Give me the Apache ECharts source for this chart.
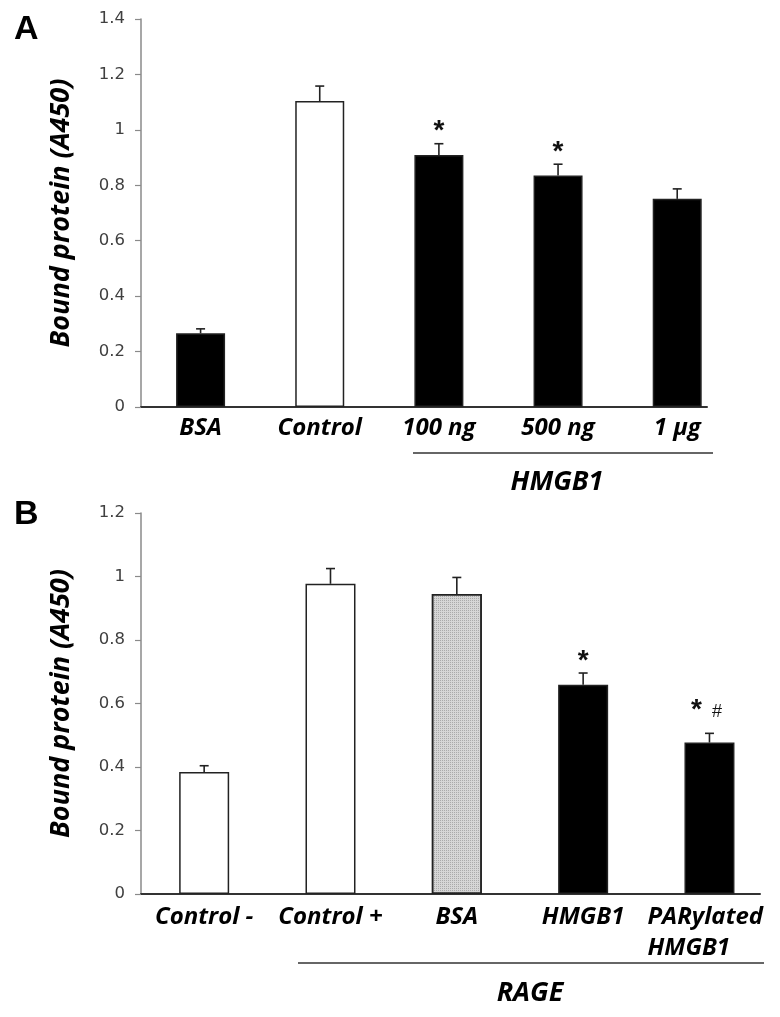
<!DOCTYPE html>
<html><head><meta charset="utf-8">
<script src="https://cdn.jsdelivr.net/npm/echarts@6/dist/echarts.min.js"></script>
<style>html,body{margin:0;padding:0;background:#fff}#c{width:780px;height:1017px}</style>
</head><body><div id="c"></div>
<script>
// ---- Data ----
const categoriesA = ['BSA', 'Control', '100 ng', '500 ng', '1 µg'];
const valuesA = [0.266, 1.104, 0.909, 0.835, 0.751];
const errorsA = [0.016, 0.054, 0.041, 0.041, 0.036];
const signifA = ['', '', '*', '*', ''];
const groupLabelA = 'HMGB1';

const categoriesB = ['Control -', 'Control +', 'BSA', 'HMGB1', 'PARylated\nHMGB1'];
const valuesB = [0.384, 0.977, 0.945, 0.659, 0.477];
const errorsB = [0.020, 0.048, 0.052, 0.037, 0.029];
const signifB = ['', '', '', '*', '* #'];
const groupLabelB = 'RAGE';

const yMaxA = 1.4, yMaxB = 1.2, yStep = 0.2;

// ---- Styles ----
const fillsA = ['#000', '#fff', '#000', '#000', '#000'];
const fillsB = ['#fff', '#fff', '#d6d6d6', '#000', '#000'];
const dottedB = [false, false, true, false, false];
const labelFont = { fontFamily: 'Open Sans', fontStyle: 'italic', fontWeight: 'bold', fontSize: 24, color: '#000' };

const chart = echarts.init(document.getElementById('c'), null, { renderer: 'canvas' });

function errRender(sig) {
  return function (params, api) {
    const x = api.value(0), y = api.value(1), e = api.value(2);
    const p0 = api.coord([x, y]), p1 = api.coord([x, y + e]);
    const children = [
      { type: 'line', shape: { x1: p0[0], y1: p0[1], x2: p1[0], y2: p1[1] }, style: { stroke: '#222', lineWidth: 1.6 } },
      { type: 'line', shape: { x1: p1[0] - 4.5, y1: p1[1], x2: p1[0] + 4.5, y2: p1[1] }, style: { stroke: '#222', lineWidth: 1.6 } }
    ];
    const s = sig[params.dataIndex];
    if (s) {
      const hasHash = s.indexOf('#') >= 0;
      const txt = s.split(' ').map(t => t === '#' ? '{h|#}' : '{s|*}').join('{g| }');
      children.push({
        type: 'text', x: p1[0] - (hasHash ? 3 : 0), y: p1[1] - (hasHash ? 23 : 12),
        style: {
          text: txt, align: 'center', verticalAlign: 'middle', fill: '#111',
          rich: {
            s: { fontFamily: 'Liberation Sans', fontWeight: 'bold', fontSize: 28, fill: '#111' },
            h: { fontFamily: 'Liberation Sans', fontSize: 18, fill: '#111', padding: [3, 0, 0, 0] },
            g: { fontSize: 16, width: 10 }
          }
        }
      });
    }
    return { type: 'group', children };
  };
}

function yAxisCfg(gi, max) {
  return {
    gridIndex: gi, type: 'value', min: 0, max: max, interval: yStep,
    axisLine: { show: true, onZero: false, lineStyle: { color: '#8a8a8a', width: 1.5 } },
    axisTick: { show: true, length: 6, lineStyle: { color: '#8a8a8a', width: 1.2 } },
    splitLine: { show: false },
    axisLabel: { color: '#404040', fontSize: 16.5, fontFamily: 'DejaVu Sans', margin: 16,
      formatter: v => String(+v.toFixed(1)) },
    name: 'Bound protein (A450)', nameLocation: 'middle', nameGap: 66,
    nameTextStyle: { fontFamily: 'Open Sans', fontStyle: 'italic', fontWeight: 'bold', fontSize: 27, color: '#000' }
  };
}

function barItem(fill, dotted) {
  const st = { color: fill, borderColor: '#222', borderWidth: 1.5 };
  if (dotted) st.decal = { symbol: 'rect', symbolSize: 1, dashArrayX: [1, 1], dashArrayY: [1, 1], color: 'rgba(90,90,90,0.35)' };
  return st;
}

const option = {
  animation: false,
  backgroundColor: '#fff',
  title: [
    { text: 'A', left: 9, top: 8, textStyle: { fontFamily: 'Liberation Sans', fontWeight: 'bold', fontSize: 34, color: '#000' } },
    { text: 'B', left: 9, top: 493, textStyle: { fontFamily: 'Liberation Sans', fontWeight: 'bold', fontSize: 34, color: '#000' } }
  ],
  grid: [
    { left: 141, right: 73, top: 19, height: 388 },
    { left: 141, right: 20, top: 513, height: 381 }
  ],
  xAxis: [
    { gridIndex: 0, type: 'value', min: -0.5, max: 4.25,
      axisLine: { show: true, onZero: false, lineStyle: { color: '#333', width: 2 } },
      axisTick: { show: false }, splitLine: { show: false },
      axisLabel: Object.assign({ customValues: [0, 1, 2, 3, 4], margin: 9,
        formatter: v => categoriesA[Math.round(v)] }, labelFont) },
    { gridIndex: 1, type: 'value', min: -0.5, max: 4.4,
      axisLine: { show: true, onZero: false, lineStyle: { color: '#333', width: 2 } },
      axisTick: { show: false }, splitLine: { show: false },
      axisLabel: Object.assign({ customValues: [0, 1, 2, 3, 4], margin: 8, lineHeight: 31,
        formatter: v => {
          const c = categoriesB[Math.round(v)];
          if (c.indexOf('\n') >= 0) return c.split('\n').map(t => '{l|' + t + '}').join('\n');
          return c;
        },
        rich: { l: Object.assign({ width: 124, align: 'left', lineHeight: 31 }, labelFont) }
      }, labelFont) }
  ],
  yAxis: [yAxisCfg(0, yMaxA), yAxisCfg(1, yMaxB)],
  series: [
    { type: 'bar', xAxisIndex: 0, yAxisIndex: 0, barWidth: 49,
      data: valuesA.map((v, i) => ({ value: [i, v], itemStyle: barItem(fillsA[i], false) })) },
    { type: 'custom', xAxisIndex: 0, yAxisIndex: 0, renderItem: errRender(signifA), z: 5,
      data: valuesA.map((v, i) => [i, v, errorsA[i]]) },
    { type: 'bar', xAxisIndex: 1, yAxisIndex: 1, barWidth: 50,
      data: valuesB.map((v, i) => ({ value: [i, v], itemStyle: barItem(fillsB[i], dottedB[i]) })) },
    { type: 'custom', xAxisIndex: 1, yAxisIndex: 1, renderItem: errRender(signifB), z: 5,
      data: valuesB.map((v, i) => [i, v, errorsB[i]]) }
  ],
  graphic: [
    { type: 'line', shape: { x1: 413, y1: 453, x2: 713, y2: 453 }, style: { stroke: '#333', lineWidth: 1.6 } },
    { type: 'text', x: 557, y: 482, style: { text: groupLabelA, fontFamily: 'Open Sans', fontStyle: 'italic', fontWeight: 'bold', fontSize: 27, fill: '#000', align: 'center', verticalAlign: 'middle' } },
    { type: 'line', shape: { x1: 298, y1: 963, x2: 764, y2: 963 }, style: { stroke: '#333', lineWidth: 1.6 } },
    { type: 'text', x: 530, y: 993, style: { text: groupLabelB, fontFamily: 'Open Sans', fontStyle: 'italic', fontWeight: 'bold', fontSize: 27, fill: '#000', align: 'center', verticalAlign: 'middle' } }
  ]
};
chart.setOption(option);
</script>
</body></html>
